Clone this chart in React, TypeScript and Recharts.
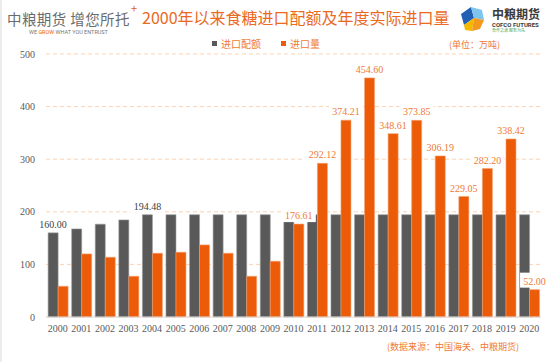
import { Bar, BarChart, CartesianGrid, LabelList, XAxis, YAxis } from "recharts";

const years = [
  "2000", "2001", "2002", "2003", "2004", "2005", "2006", "2007", "2008", "2009", "2010",
  "2011", "2012", "2013", "2014", "2015", "2016", "2017", "2018", "2019", "2020",
];
const quota = [
  160, 167.5, 176.4, 184.6, 194.48, 194.48, 194.48, 194.48, 194.48, 194.48, 194.48,
  194.48, 194.48, 194.48, 194.48, 194.48, 194.48, 194.48, 194.48, 194.48, 194.48,
];
const imports = [
  58.4, 119.9, 113.6, 77.4, 121.2, 123.1, 137, 121.2, 77.4, 106, 176.61,
  292.12, 374.21, 454.6, 348.61, 373.85, 306.19, 229.05, 282.2, 338.42, 52,
];
const yTicks = [0, 100, 200, 300, 400, 500];
const quotaLabelIdx = [0, 4];
const importLabelIdx = [10, 11, 12, 13, 14, 15, 16, 17, 18, 19, 20];

const data = years.map((year, i) => ({ year, quota: quota[i], imports: imports[i] }));

const GRAY = "#595959";
const ORANGE = "#ec5b07";
const TEXT_ORANGE = "#ef7a33";
const SERIF = "'Liberation Serif', serif";
const CJK = "'Noto Sans CJK SC', 'Noto Sans', sans-serif";

function makeLabel(color: string, shown: number[]) {
  return (props: any) => {
    const { x, y, width, value, index } = props;
    if (!shown.includes(index)) return null;
    const cx = Number(x) + Number(width) / 2;
    const text = Number(value).toFixed(2);
    const w = text.length * 5 + 4;
    return (
      <g>
        <rect x={cx - w / 2} y={Number(y) - 17} width={w} height={15} fill="#fff" />
        <text x={cx} y={Number(y) - 5} textAnchor="middle" fill={color} fontSize={10} fontFamily={SERIF}>
          {text}
        </text>
      </g>
    );
  };
}

function ChartLegend() {
  const item = (color: string, label: string) => (
    <span style={{ display: "inline-flex", alignItems: "center", marginRight: 20 }}>
      <span style={{ width: 5, height: 5, background: color, marginRight: 4 }} />
      <span style={{ color: TEXT_ORANGE }}>{label}</span>
    </span>
  );
  return (
    <div style={{ position: "absolute", left: 210, top: 36, fontFamily: CJK, fontSize: 10, lineHeight: "12px", whiteSpace: "nowrap" }}>
      {item(GRAY, "进口配额")}
      {item(ORANGE, "进口量")}
    </div>
  );
}

function CofcoIcon() {
  return (
    <svg width={28} height={28} viewBox="0 0 28 28" style={{ position: "absolute", left: 456, top: 5 }}>
      <polygon points="3,9 13,2 16,13 6,20" fill="#1f5fb4" />
      <polygon points="13,2 24,5 26,15 16,13" fill="#7fc4ec" />
      <polygon points="6,20 16,13 14,26 7,25" fill="#f6b800" />
      <polygon points="16,13 26,15 22,24 14,26" fill="#f39a1e" />
    </svg>
  );
}

export default function App() {
  return (
    <div
      style={{
        position: "absolute",
        left: 0,
        top: 0,
        width: 554,
        height: 362,
        background: "#fff",
        borderLeft: "2px solid #ececec",
        boxSizing: "border-box",
        fontFamily: CJK,
      }}
    >
      <div style={{ position: "absolute", left: 5, top: 8, fontSize: 14.5, color: "#6b6b6b", letterSpacing: 0.4, whiteSpace: "nowrap" }}>
        中粮期货 增您所托
      </div>
      <div style={{ position: "absolute", left: 129, top: 0, fontSize: 11, color: ORANGE }}>+</div>
      <div style={{ position: "absolute", left: 27, top: 29, fontSize: 5.5, color: "#777", fontFamily: "Roboto, sans-serif", whiteSpace: "nowrap" }}>
        WE <span style={{ color: ORANGE }}>GROW</span> WHAT YOU ENTRUST
      </div>
      <div style={{ position: "absolute", left: 140, top: 5, fontSize: 16, color: "#ea6a1f", whiteSpace: "nowrap" }}>
        2000年以来食糖进口配额及年度实际进口量
      </div>
      <CofcoIcon />
      <div style={{ position: "absolute", left: 490, top: 5, fontSize: 12, fontWeight: 700, color: "#3a3a3a", whiteSpace: "nowrap" }}>
        中粮期货
      </div>
      <div style={{ position: "absolute", left: 490, top: 21, fontSize: 6, lineHeight: "7px", fontWeight: 700, color: "#3a3a3a", fontFamily: "Roboto, sans-serif", whiteSpace: "nowrap" }}>
        COFCO FUTURES
      </div>
      <div style={{ position: "absolute", left: 490, top: 28, fontSize: 4, lineHeight: "5px", color: "#3aa04a", whiteSpace: "nowrap" }}>
        合作之道 服务为先
      </div>
      <div style={{ position: "absolute", left: 447, top: 38, fontSize: 9, color: TEXT_ORANGE, whiteSpace: "nowrap" }}>
        (单位：万吨)
      </div>
      <div style={{ position: "absolute", left: 385, top: 340, fontSize: 9, color: TEXT_ORANGE, whiteSpace: "nowrap" }}>
        (数据来源：中国海关、中粮期货)
      </div>
      <ChartLegend />
      <BarChart
        width={552}
        height={362}
        data={data}
        margin={{ top: 54, right: 13, left: 14, bottom: 15 }}
        barCategoryGap="9%"
        barGap={0}
        style={{ position: "absolute", left: 0, top: 0 }}
      >
        <CartesianGrid horizontal vertical={false} stroke="#fbd2b3" strokeDasharray="4 3" />
        <XAxis
          dataKey="year"
          tickLine={false}
          axisLine={{ stroke: "#d9d9d9" }}
          height={30}
          interval={0}
          tick={{ fontSize: 10, fontFamily: SERIF, fill: "#595959" }}
        />
        <YAxis
          domain={[0, 500]}
          ticks={yTicks}
          tickLine={false}
          axisLine={false}
          width={30}
          tickMargin={5}
          tick={{ fontSize: 10, fontFamily: SERIF, fill: "#595959" }}
        />
        <Bar dataKey="quota" name="进口配额" fill={GRAY} stroke="#9a9a9a" strokeWidth={0.6} isAnimationActive={false}>
          <LabelList dataKey="quota" content={makeLabel("#404040", quotaLabelIdx)} />
        </Bar>
        <Bar dataKey="imports" name="进口量" fill={ORANGE} stroke="#f5a06e" strokeWidth={0.6} isAnimationActive={false}>
          <LabelList dataKey="imports" content={makeLabel(TEXT_ORANGE, importLabelIdx)} />
        </Bar>
      </BarChart>
    </div>
  );
}
